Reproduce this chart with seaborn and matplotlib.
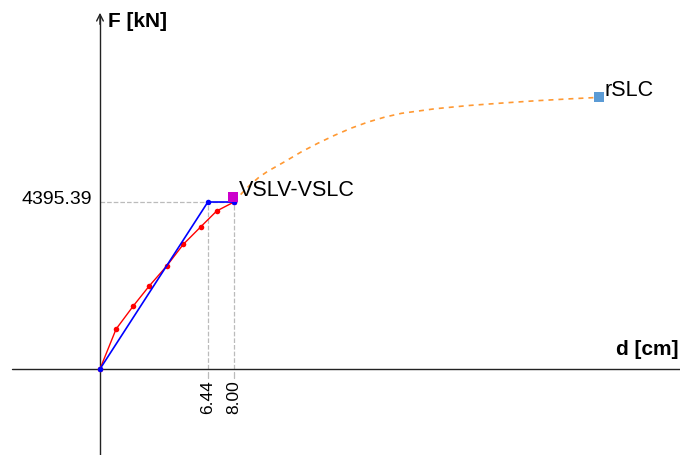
import numpy as np
import pandas as pd
import matplotlib
matplotlib.use("Agg")
import matplotlib.pyplot as plt
import seaborn as sns

# capacity curve (red)
cap_d = [0.0, 0.96, 1.99, 2.94, 3.98, 4.97, 6.01, 6.97, 8.0]
cap_F = [0, 1050, 1660, 2185, 2710, 3280, 3740, 4160, 4395.39]

# bilinear (blue)
bil_d = [0.0, 6.44, 8.00]
bil_F = [0, 4395.39, 4395.39]

# extrapolated part (orange dashed)
ext_d = [8.0, 8.5, 9.0, 9.5, 10.0, 11.0, 12.0, 13.0, 14.0, 15.0, 16.0, 17.0, 18.0,
         20.0, 22.0, 24.0, 26.0, 28.0, 29.8]
ext_F = [4395.39, 4640, 4860, 5050, 5200, 5450, 5710, 5940, 6150, 6340, 6500, 6630, 6730,
         6850, 6935, 7000, 7060, 7110, 7150]

# labelled points
pt_names = ["VSLV-VSLC", "rSLC"]
pt_d = [7.95, 29.8]
pt_F = [4540, 7150]
pt_colors = ["#cc00cc", "#5b9bd5"]

dy_val = 4395.39
dx_vals = [6.44, 8.00]

sns.set_theme(style="white")
plt.rcParams['font.family'] = ['Liberation Sans', 'DejaVu Sans']
plt.rcParams['text.color'] = 'black'

fig = plt.figure(figsize=(6.8, 4.55), dpi=100)
ax = fig.add_axes([0, 0, 1, 1])
ax.set_xlim(-5.97, 34.63)
ax.set_ylim(-2264, 9713)
ax.axis("off")

# axes through the origin
ax.plot([-5.25, 34.63], [0, 0], color="#222222", lw=1)
ax.plot([0, 0], [-2264, 9300], color="#222222", lw=1)
ax.annotate("", xy=(0, 9450), xytext=(0, 9000),
            arrowprops=dict(arrowstyle="->", color="#222222", lw=1))
ax.text(0.45, 9160, "F [kN]", fontsize=15, fontweight="bold", va="center", ha="left")
ax.text(34.55, 500, "d [cm]", fontsize=15, fontweight="bold", va="center", ha="right")

# guide lines
ax.plot([0, dx_vals[-1]], [dy_val, dy_val], color="#bbbbbb", ls="--", lw=0.9, zorder=1)
for dx in dx_vals:
    ax.plot([dx, dx], [0, dy_val], color="#bbbbbb", ls="--", lw=0.9, zorder=1)
    ax.plot([dx, dx], [-80, -250], color="#bbbbbb", lw=0.9)
    ax.text(dx, -300, f"{dx:.2f}", rotation=90, fontsize=12.5, ha="center", va="top")
ax.text(-0.45, dy_val + 60, f"{dy_val:.2f}", fontsize=14, ha="right", va="center")

# curves
sns.lineplot(x=ext_d, y=ext_F, ax=ax, color="#ff9933", lw=1.2, sort=False,
             linestyle=(0, (3, 3)), zorder=2)
sns.lineplot(x=cap_d, y=cap_F, ax=ax, color="#ff0000", lw=1, sort=False,
             marker="o", markersize=4, markeredgewidth=0, zorder=3)
sns.lineplot(x=bil_d, y=bil_F, ax=ax, color="#0000ff", lw=1.2, sort=False,
             marker="o", markersize=4, markeredgewidth=0, zorder=4)

for name, d, F, c in zip(pt_names, pt_d, pt_F, pt_colors):
    ax.scatter([d], [F], marker="s", s=55, color=c, zorder=5, linewidths=0)
    ax.text(d + 0.35, F + 170, name, fontsize=15.5, ha="left", va="center", zorder=6)

fig.savefig("out.png", dpi=100)
